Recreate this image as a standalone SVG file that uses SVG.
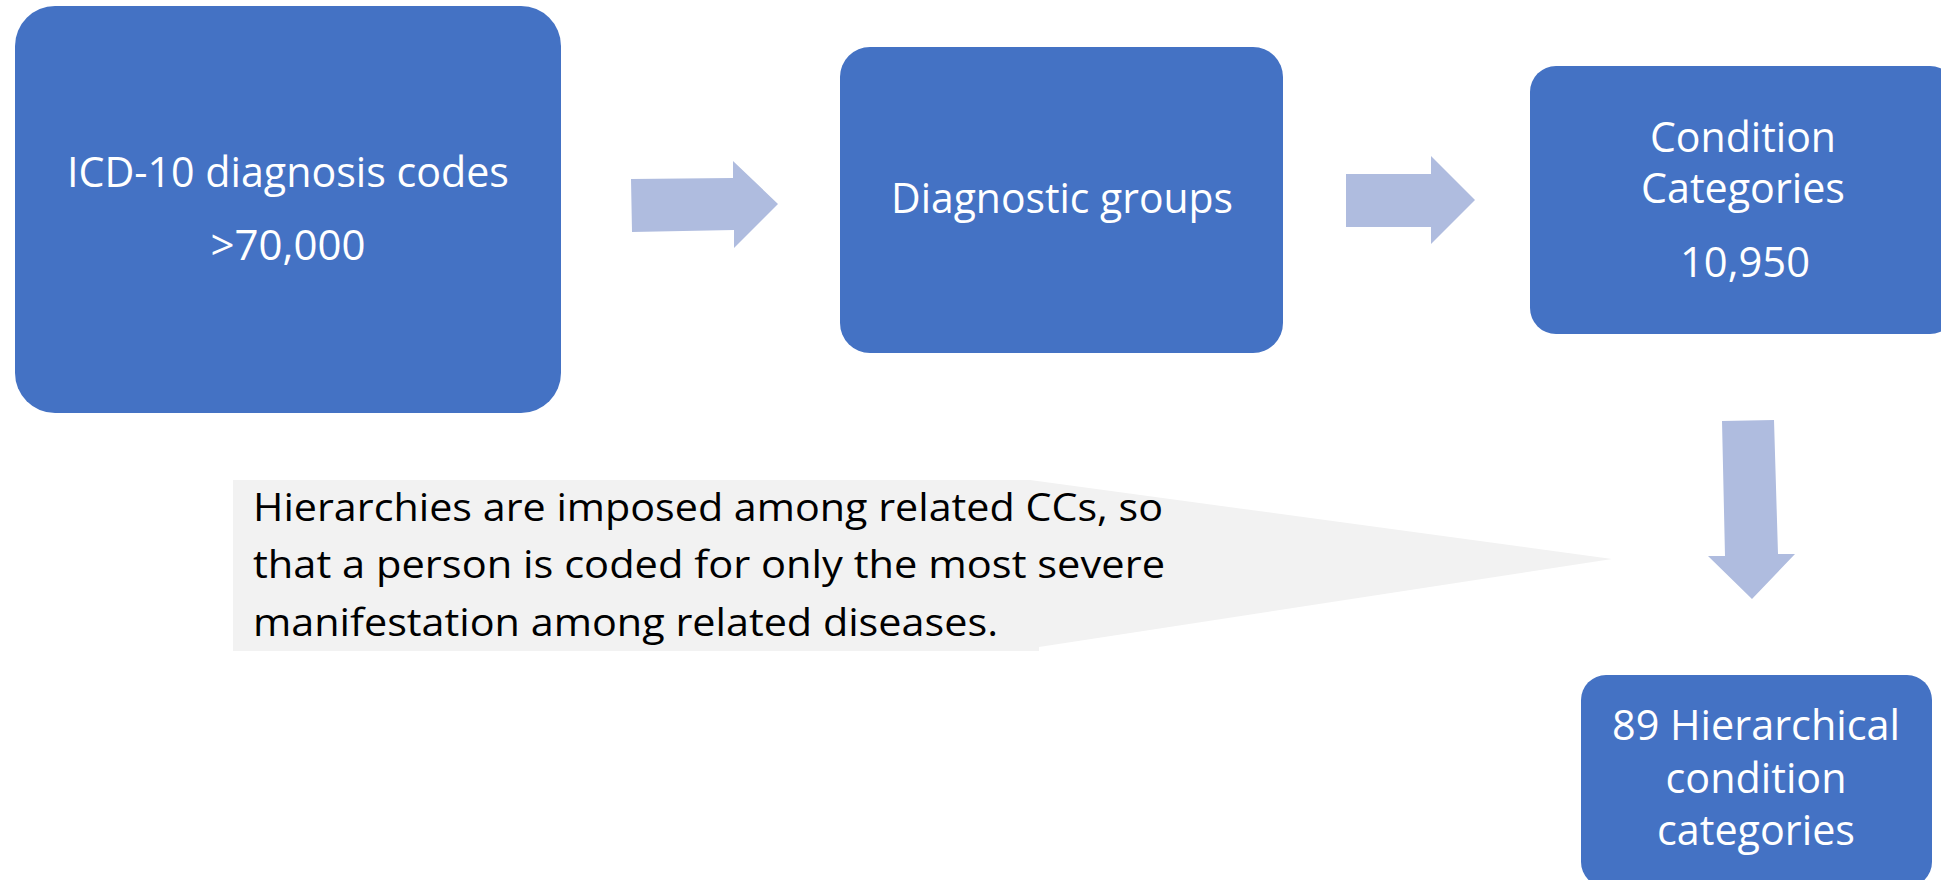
<svg xmlns="http://www.w3.org/2000/svg" width="1941" height="880" viewBox="0 0 1941 880">
<style>
.box{fill:#4472C4}
.arrow{fill:#AFBCDF}
.callout{fill:#F2F2F2}
.wt{fill:#FFFFFF;font-family:"Open Sans","Noto Sans",sans-serif;font-size:42px;text-anchor:middle}
.bt{fill:#000000;font-family:"Open Sans","Noto Sans",sans-serif;font-size:39px}
</style>
<rect width="1941" height="880" fill="#FFFFFF"/>
<g id="connectors">
<polygon class="arrow" points="631,179 733,178 733,161 778,204 734,248 734,230 632,232"/>
<polygon class="arrow" points="1346,174 1431,174 1431,156 1475,200 1431,244 1431,227 1346,227"/>
<polygon class="arrow" points="1722,421 1774,420 1778,554 1795,554 1752,599 1708,556 1725,556"/>
</g>
<g id="node-icd10">
<rect class="box" x="15" y="6" width="546" height="407" rx="40" ry="40"/>
<text class="wt" x="288" y="187" textLength="442" lengthAdjust="spacingAndGlyphs">ICD-10 diagnosis codes</text>
<text class="wt" x="288" y="260" textLength="155" lengthAdjust="spacingAndGlyphs">&gt;70,000</text>
</g>
<g id="node-diagnostic-groups">
<rect class="box" x="840" y="47" width="443" height="306" rx="30" ry="30"/>
<text class="wt" x="1062" y="213" textLength="342" lengthAdjust="spacingAndGlyphs">Diagnostic groups</text>
</g>
<g id="node-condition-categories">
<rect class="box" x="1530" y="66" width="426" height="268" rx="26" ry="26"/>
<text class="wt" x="1743" y="152" textLength="186" lengthAdjust="spacingAndGlyphs">Condition</text>
<text class="wt" x="1743" y="203" textLength="204" lengthAdjust="spacingAndGlyphs">Categories</text>
<text class="wt" x="1745" y="277" textLength="130" lengthAdjust="spacingAndGlyphs">10,950</text>
</g>
<g id="node-hcc">
<rect class="box" x="1581" y="675" width="351" height="212" rx="25" ry="25"/>
<text class="wt" x="1756" y="740" textLength="288" lengthAdjust="spacingAndGlyphs">89 Hierarchical</text>
<text class="wt" x="1756" y="793" textLength="181" lengthAdjust="spacingAndGlyphs">condition</text>
<text class="wt" x="1756" y="845" textLength="198" lengthAdjust="spacingAndGlyphs">categories</text>
</g>
<g id="node-callout">
<polygon class="callout" points="233,480 1030,480 1612,559 1039,647 1039,651 233,651"/>
<text class="bt" x="253" y="521" textLength="910" lengthAdjust="spacingAndGlyphs">Hierarchies are imposed among related CCs, so</text>
<text class="bt" x="253" y="578" textLength="912" lengthAdjust="spacingAndGlyphs">that a person is coded for only the most severe</text>
<text class="bt" x="253" y="636" textLength="745" lengthAdjust="spacingAndGlyphs">manifestation among related diseases.</text>
</g>
</svg>
